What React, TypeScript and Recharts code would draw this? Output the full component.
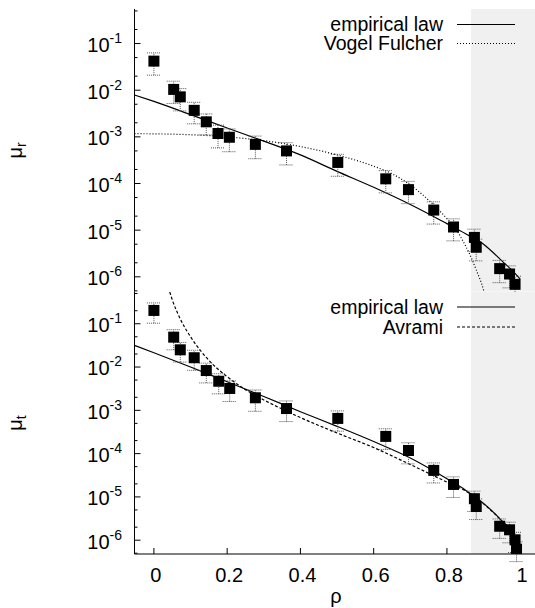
import React from "react";
import { ComposedChart, Scatter, Line, XAxis, YAxis, ErrorBar, ReferenceArea } from "recharts";

const FONT = "'Liberation Sans', Arial, Helvetica, sans-serif";

// measured relaxation rates (squares with error bars)
const rhoR = [0, 0.054, 0.072, 0.11, 0.143, 0.175, 0.206, 0.277, 0.362, 0.502, 0.633, 0.695, 0.764, 0.818, 0.875, 0.88, 0.944, 0.971, 0.986];
const muR = [0.042, 0.0104, 0.0072, 0.0037, 0.0021, 0.00118, 0.00098, 0.00069, 0.0005, 0.000283, 0.000126, 0.000074, 0.000027, 0.0000117, 0.000007, 0.0000043, 0.0000015, 0.00000115, 0.00000069];
const muRErr = [0.021, 0.0052, 0.0036, 0.0018, 0.001, 0.0006, 0.0005, 0.00035, 0.00025, 0.00014, 0.000063, 0.000037, 0.0000135, 0.0000058, 0.0000035, 0.0000021, 0.00000075, 0.00000057, 0.00000034];

const rhoT = [0, 0.054, 0.072, 0.11, 0.143, 0.177, 0.207, 0.277, 0.362, 0.502, 0.633, 0.695, 0.764, 0.818, 0.875, 0.88, 0.944, 0.971, 0.986, 0.99];
const muT = [0.203, 0.049, 0.025, 0.0164, 0.0083, 0.0047, 0.0032, 0.00195, 0.0011, 0.00065, 0.00025, 0.000118, 0.000041, 0.0000194, 0.0000091, 0.000006, 0.0000021, 0.00000174, 0.00000102, 0.00000062];
const muTErr = [0.1, 0.024, 0.012, 0.008, 0.004, 0.0023, 0.0016, 0.001, 0.00055, 0.00032, 0.000125, 0.00006, 0.00002, 0.0000097, 0.0000045, 0.000003, 0.000001, 0.00000087, 0.0000005, 0.0000003];

// fitted curves
const empRRho = [-0.053, 0, 0.1, 0.2, 0.3, 0.4, 0.5, 0.6, 0.7, 0.8, 0.85, 0.9, 0.95, 0.98, 1.0];
const empR = [0.0079, 0.00575, 0.003, 0.00155, 0.00081, 0.00041, 0.000182, 0.000083, 0.0000355, 0.0000138, 0.0000085, 0.000005, 0.0000022, 0.00000132, 0.00000089];

const vfRho = [-0.053, 0, 0.1, 0.2, 0.3, 0.4, 0.5, 0.6, 0.65, 0.7, 0.75, 0.8, 0.82, 0.84, 0.86, 0.88, 0.9, 0.91, 0.92];
const vf = [0.00117, 0.00116, 0.00111, 0.001, 0.00083, 0.00062, 0.00041, 0.000235, 0.000162, 0.000093, 0.000044, 0.0000178, 0.000012, 0.0000066, 0.0000033, 0.00000141, 0.00000052, 0.00000025, 0.00000012];

const empTRho = [-0.053, 0, 0.1, 0.2, 0.3, 0.4, 0.5, 0.6, 0.7, 0.8, 0.85, 0.9, 0.95, 0.98, 1.0];
const empT = [0.0316, 0.0214, 0.01, 0.00457, 0.00209, 0.00093, 0.000427, 0.00019, 0.000079, 0.0000263, 0.0000145, 0.0000071, 0.0000028, 0.00000141, 0.0000005];

const avRho = [0.035, 0.043, 0.05, 0.07, 0.1, 0.13, 0.16, 0.2, 0.25, 0.3, 0.35, 0.4, 0.5, 0.6, 0.7, 0.8, 0.85, 0.9, 0.95, 0.98, 1.0];
const av = [0.9, 0.55, 0.36, 0.14, 0.05, 0.0224, 0.0117, 0.006, 0.003, 0.00174, 0.00107, 0.00068, 0.0003, 0.000138, 0.000056, 0.000022, 0.0000138, 0.0000069, 0.00000275, 0.00000138, 0.0000005];

const xTicks = [0, 0.2, 0.4, 0.6, 0.8, 1];
const yTicks = [
  5e-7, 1e-6, 2e-6, 5e-6, 1e-5, 2e-5, 5e-5, 1e-4, 2e-4, 5e-4,
  1e-3, 2e-3, 5e-3, 1e-2, 2e-2, 5e-2, 1e-1, 2e-1, 5e-1,
];
const glassRho = 0.866;

const X_DOMAIN: [number, number] = [-0.053, 1.05];
const Y_DOMAIN: [number, number] = [4.8e-7, 0.55];

const W = 560;
const LEFT = 134.5;
const TICK_GAP = 12.5;

const pts = (xs: number[], ys: number[], es?: number[]) =>
  xs.map((x, i) => ({ x, y: ys[i], err: es ? es[i] : undefined }));

function YTick({ x, y, payload }: any) {
  const e = Math.log10(payload.value);
  const major = Math.abs(e - Math.round(e)) < 1e-6;
  const ax = x + TICK_GAP;
  return (
    <g>
      <line x1={ax} x2={ax + (major ? 6 : 3)} y1={y} y2={y} stroke="#000" />
      {major && (
        <text x={x} y={y + 8.4} textAnchor="end" fontSize={20} fontFamily={FONT} fill="#000">
          <tspan>10</tspan>
          <tspan dy={-9} fontSize={14}>{String(Math.round(e))}</tspan>
        </text>
      )}
    </g>
  );
}

function XTick({ x, y, payload }: any) {
  return (
    <text x={x + 2} y={y} dy="0.71em" textAnchor="middle" fontSize={20} fontFamily={FONT} fill="#000">
      {String(payload.value)}
    </text>
  );
}

const Square = ({ cx, cy }: any) => <rect x={cx - 5.5} y={cy - 5.5} width={11} height={11} fill="#000" />;

type Curve = { data: { x: number; y: number }[]; dash?: string };

function Panel({
  height,
  mt,
  mb,
  xHeight,
  labels,
  points,
  curves,
}: {
  height: number;
  mt: number;
  mb: number;
  xHeight: number;
  labels: boolean;
  points: { x: number; y: number; err?: number }[];
  curves: Curve[];
}) {
  return (
    <ComposedChart width={W} height={height} margin={{ top: mt, right: W - 538.5, bottom: mb, left: 0 }}>
      <ReferenceArea x1={glassRho} x2={X_DOMAIN[1]} fill="#f0f0f0" fillOpacity={1} stroke="none" ifOverflow="hidden" />
      <XAxis
        dataKey="x"
        type="number"
        domain={X_DOMAIN}
        allowDataOverflow
        ticks={xTicks}
        interval={0}
        height={xHeight}
        tickSize={-6}
        tickMargin={20}
        tick={labels ? <XTick /> : false}
        axisLine={{ stroke: "#000" }}
        tickLine={{ stroke: "#000" }}
      />
      <XAxis
        xAxisId="top"
        orientation="top"
        dataKey="x"
        type="number"
        domain={X_DOMAIN}
        allowDataOverflow
        ticks={xTicks}
        interval={0}
        height={0}
        tickSize={-6}
        tick={false}
        axisLine={{ stroke: "#000" }}
        tickLine={{ stroke: "#000" }}
      />
      <YAxis
        type="number"
        scale="log"
        domain={Y_DOMAIN}
        allowDataOverflow
        ticks={yTicks}
        interval={0}
        width={LEFT}
        tickSize={0}
        tickMargin={TICK_GAP}
        tickLine={false}
        tick={<YTick />}
        axisLine={{ stroke: "#000" }}
      />
      {curves.map((c, i) => (
        <Line
          key={i}
          data={c.data}
          dataKey="y"
          type="monotone"
          stroke="#000"
          strokeWidth={1.2}
          strokeDasharray={c.dash}
          dot={false}
          activeDot={false}
          isAnimationActive={false}
        />
      ))}
      <Scatter data={points} dataKey="y" shape={Square} isAnimationActive={false}>
        <ErrorBar dataKey="err" direction="y" width={7} stroke="#555" strokeWidth={1} strokeDasharray="1 1" />
      </Scatter>
    </ComposedChart>
  );
}

function Key({ rows }: { rows: { label: string; y: number; dash?: string }[] }) {
  return (
    <>
      {rows.map((r) => (
        <g key={r.label}>
          <text x={443} y={r.y + 6.5} textAnchor="end" fontSize={19.5} fontFamily={FONT} fill="#000">
            {r.label}
          </text>
          <line x1={457} x2={515} y1={r.y} y2={r.y} stroke="#000" strokeWidth={1.2} strokeDasharray={r.dash} />
        </g>
      ))}
    </>
  );
}

export default function App() {
  return (
    <div style={{ position: "fixed", left: 0, top: 0, width: 535, height: 608, overflow: "hidden", background: "#fff" }}>
      <div style={{ position: "absolute", left: 0, top: 0 }}>
        <Panel
          height={300}
          mt={9}
          mb={8.3}
          xHeight={0}
          labels={false}
          points={pts(rhoR, muR, muRErr)}
          curves={[
            { data: pts(vfRho, vf), dash: "1 2" },
            { data: pts(empRRho, empR) },
          ]}
        />
      </div>
      <div style={{ position: "absolute", left: 0, top: 280 }}>
        <Panel
          height={328}
          mt={11.7}
          mb={0}
          xHeight={54}
          labels
          points={pts(rhoT, muT, muTErr)}
          curves={[
            { data: pts(avRho, av), dash: "3 2" },
            { data: pts(empTRho, empT) },
          ]}
        />
      </div>
      <svg width={535} height={608} style={{ position: "absolute", left: 0, top: 0, pointerEvents: "none" }}>
        <Key
          rows={[
            { label: "empirical law", y: 24.5 },
            { label: "Vogel Fulcher", y: 43.5, dash: "1 2" },
          ]}
        />
        <Key
          rows={[
            { label: "empirical law", y: 307 },
            { label: "Avrami", y: 327, dash: "3 2" },
          ]}
        />
        <text transform="translate(21.5,150.5) rotate(-90)" textAnchor="middle" fontSize={20} fontFamily={FONT} fill="#000">
          <tspan>μ</tspan>
          <tspan dy={4} fontSize={14}>r</tspan>
        </text>
        <text transform="translate(21.5,423) rotate(-90)" textAnchor="middle" fontSize={20} fontFamily={FONT} fill="#000">
          <tspan>μ</tspan>
          <tspan dy={4} fontSize={14}>t</tspan>
        </text>
        <text x={336} y={603} textAnchor="middle" fontSize={20} fontFamily={FONT} fill="#000">
          ρ
        </text>
      </svg>
    </div>
  );
}
